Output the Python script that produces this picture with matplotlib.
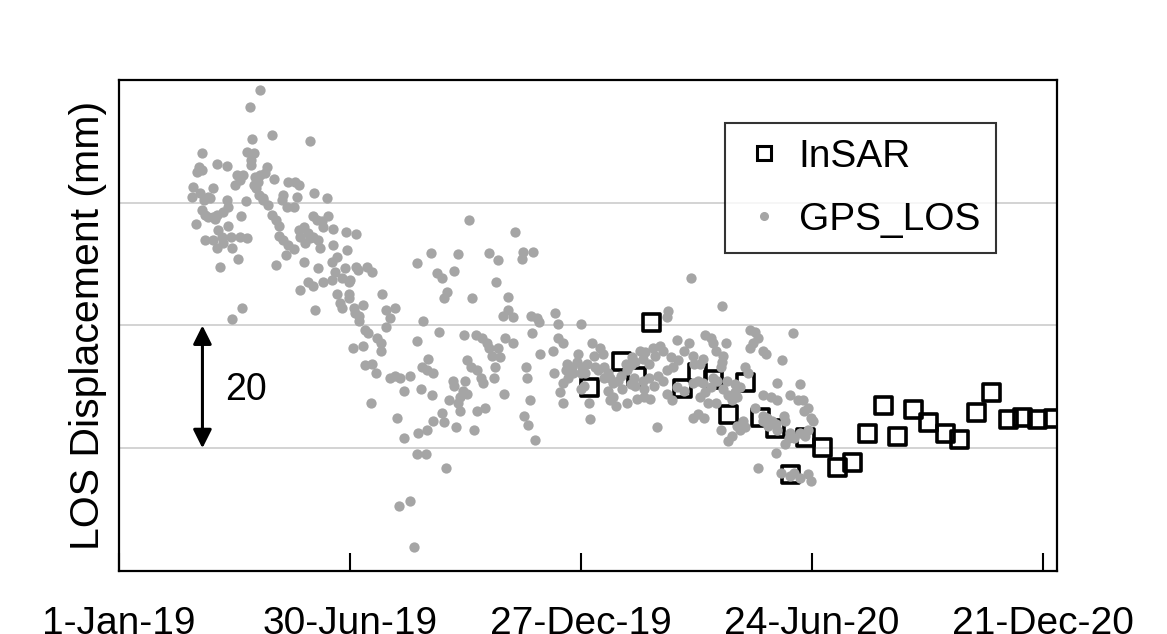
import matplotlib
matplotlib.use('Agg')
import matplotlib.pyplot as plt
from matplotlib.lines import Line2D
import pandas as pd

# GPS LOS series: days since 1-Jan-19, displacement (mm)
gps_day = [
    110, 102, 119, 149, 104, 65, 100, 105, 103, 103,
    62, 65, 61, 76, 84, 115, 92, 97, 90, 94,
    106, 110, 105, 108, 114, 121, 107, 109, 112, 132,
    137, 140, 128, 127, 131, 136, 139, 152, 162, 58,
    57, 63, 66, 69, 73, 71, 112, 116, 99, 84,
    85, 81, 76, 65, 67, 69, 73, 75, 119, 122,
    125, 95, 151, 154, 158, 163, 159, 167, 60, 85,
    77, 80, 73, 67, 76, 81, 87, 94, 100, 88,
    93, 79, 125, 128, 132, 136, 140, 144, 147, 141,
    149, 145, 151, 155, 157, 122, 130, 144, 155, 166,
    170, 167, 177, 185, 147, 151, 159, 166, 168, 174,
    179, 141, 170, 179, 179, 172, 174, 183, 190, 153,
    96, 88, 185, 193, 197, 205, 208, 215, 211, 208,
    187, 187,
    178, 176, 180, 186, 184, 192, 194, 201, 204, 204,
    182, 190, 192, 197, 200, 196, 211, 215, 218, 227, 230,
    232, 239, 255, 232, 243, 264, 288, 295, 315, 323,
    314, 309, 273, 248, 252, 261, 294, 256, 253, 275,
    303, 299, 303, 307, 321, 326, 327, 340, 342, 237,
    249, 232, 269, 278, 283, 287, 288, 291, 295, 297,
    293, 292, 284, 301, 307, 322, 328, 338, 342, 346,
    317, 318, 339, 349, 353, 357, 358, 350, 346, 354,
    346, 241, 236, 240, 245, 219, 227, 222, 235, 244,
    271, 274, 279, 282, 270, 268, 260, 261, 271, 266,
    257, 264, 266, 252, 245, 253, 263, 279, 285, 277,
    300, 320, 316, 319, 324, 233, 240, 222, 217, 360,
    367, 366,
    428, 427, 446, 470, 369, 375, 377, 370, 348, 361,
    360, 363, 365, 371, 373, 378, 381, 383, 378, 385,
    389, 391, 396, 399, 395, 400, 402, 406, 410, 408,
    416, 422, 424, 418, 413, 401, 408, 413, 420, 424,
    417, 409, 402, 399, 392, 427, 432, 436, 435, 440,
    444, 447, 448, 430, 435, 440, 447, 427, 431, 344,
    360, 362, 381, 383, 387, 385, 396, 404, 409, 414,
    419, 447, 451,
    492, 496, 498, 494, 492, 502, 504, 525, 457, 461,
    463, 465, 473, 455, 453, 471, 470, 469, 488, 490,
    517, 451, 455, 463, 466, 474, 480, 484, 480, 482,
    478, 475, 471, 461, 457, 453, 459, 465, 513, 531,
    502, 508, 513, 523, 529, 533, 537, 534, 539, 541,
    537, 535, 531, 526, 522, 519, 523, 518, 519, 496,
    502, 505, 509, 512, 502, 506, 513, 486, 482, 488,
    484, 478, 475, 469, 456, 512, 498, 516, 523, 526,
    537, 539, 531,
]
gps_mm = [
    78.4, 75.6, 71.0, 70.1, 70.4, 68.1, 68.3, 68.1, 67.0, 66.1,
    65.8, 65.3, 65.0, 66.3, 66.0, 65.8, 64.5, 64.5, 62.9, 63.7,
    64.2, 64.5, 62.9, 63.4, 64.8, 63.9, 62.4, 61.2, 60.7, 63.4,
    63.4, 62.9, 61.2, 60.4, 59.3, 59.3, 60.9, 61.6, 60.7, 62.5,
    61.0, 61.6, 60.4, 60.9, 62.4, 60.7, 60.4, 59.6, 60.3, 60.4,
    59.3, 58.5, 58.0, 58.8, 58.0, 57.6, 57.6, 57.3, 58.0, 57.2,
    56.2, 57.8, 57.8, 57.2, 57.0, 57.8, 56.0, 55.7, 56.5, 56.2,
    55.5, 54.4, 53.9, 53.9, 52.7, 53.4, 54.4, 54.4, 54.2, 52.6,
    50.9, 49.5, 54.5, 53.9, 53.1, 52.4, 55.5, 56.0, 55.0, 54.4,
    54.2, 53.4, 54.4, 53.9, 52.7, 49.8, 51.4, 50.3, 49.3, 50.3,
    51.1, 53.1, 55.2, 54.9, 47.0, 46.5, 47.0, 47.4, 48.7, 47.7,
    47.0, 45.7, 45.2, 45.2, 44.4, 43.6, 42.8, 42.9, 43.3, 42.5,
    42.8, 41.0, 49.5, 49.5, 48.7, 45.2, 42.5, 42.9, 41.2, 39.7,
    41.6, 40.8,
    52.3, 49.3, 47.4, 49.0, 42.0, 39.2, 38.7, 37.9, 37.1, 35.9,
    36.4, 36.7, 33.5, 33.8, 32.2, 27.4, 31.5, 31.8, 10.6, 11.4, 3.9,
    19.1, 19.1, 16.8, 50.1, 51.8, 51.6, 51.8, 50.6, 51.9, 51.9,
    50.8, 55.2, 57.2, 48.5, 47.7, 48.8, 47.0, 45.4, 44.4, 44.4,
    44.6, 41.5, 42.5, 41.3, 41.6, 41.2, 40.5, 42.1, 40.2, 40.8,
    39.0, 37.4, 38.4, 38.4, 37.9, 37.1, 36.3, 35.1, 36.3, 34.8,
    33.2, 31.5, 30.7, 38.0, 37.1, 38.7, 35.4, 35.8, 38.0, 37.1,
    33.2, 31.5, 32.2, 33.8, 33.2, 34.0, 35.4, 31.5, 30.7, 32.2,
    27.3, 34.6, 33.2, 32.7, 32.2, 31.5, 31.8, 29.4, 29.7, 28.7,
    34.3, 33.2, 32.7, 31.5, 31.0, 29.4, 31.0, 30.2, 28.9, 28.3,
    27.9, 27.3, 26.1, 25.8, 24.5, 24.2, 23.5, 26.1, 26.6, 23.0,
    28.9, 27.8, 25.3, 23.8, 21.4, 22.5, 22.9, 21.6, 25.0, 40.2,
    24.8, 27.4,
    42.3, 41.3, 47.8, 43.1, 37.1, 36.3, 35.4, 35.1, 32.7, 33.2,
    32.3, 32.3, 33.8, 33.2, 32.7, 33.2, 32.3, 31.5, 31.4, 30.7,
    31.0, 31.8, 32.7, 33.5, 33.8, 34.8, 34.0, 35.9, 35.6, 34.6,
    36.3, 36.7, 35.9, 35.1, 33.8, 31.5, 31.0, 31.4, 31.8, 31.0,
    30.2, 29.7, 30.2, 30.5, 29.7, 32.7, 33.2, 34.3, 37.6, 35.9,
    37.1, 35.1, 33.8, 34.8, 29.9, 29.4, 30.7, 28.9, 27.8, 29.1,
    29.7, 30.2, 29.4, 27.8, 26.9, 28.3, 27.3, 28.1, 28.3, 28.1,
    23.5, 25.0, 25.6,
    39.2, 38.9, 37.9, 37.1, 36.3, 35.9, 35.4, 38.7, 38.4, 37.9,
    37.1, 35.9, 37.2, 34.6, 33.8, 35.1, 34.0, 33.2, 33.2, 32.3,
    34.3, 31.0, 30.7, 31.4, 31.0, 31.0, 30.5, 29.9, 29.1, 28.3,
    27.8, 28.6, 29.7, 29.9, 29.1, 28.3, 27.4, 27.3, 30.7, 30.5,
    28.6, 28.3, 27.8, 28.6, 27.8, 27.8, 26.6, 26.1, 25.0, 24.5,
    22.9, 22.0, 22.4, 21.7, 21.6, 20.7, 22.5, 25.3, 24.5, 26.5,
    25.3, 25.0, 24.5, 24.0, 24.5, 23.7, 22.9, 24.5, 23.7, 23.4,
    22.9, 22.0, 21.2, 22.9, 25.0, 19.3, 16.8, 16.0, 15.5, 16.0,
    15.8, 14.7, 15.2,
]

# InSAR series
insar_day = [367, 392, 403, 415, 439, 451, 463, 475, 488, 500, 512, 523, 535, 548, 560,
             572, 583, 596, 607, 619, 631, 644, 655, 668, 680, 693, 704, 716, 728]
insar_mm = [29.9, 34.1, 31.7, 40.5, 29.7, 32.3, 31.2, 25.5, 30.7, 25.0, 23.2, 15.7, 21.7, 20.1, 16.8,
            17.6, 22.4, 26.9, 21.9, 26.3, 24.2, 22.4, 21.4, 25.8, 29.1, 24.7, 25.0, 24.7, 24.8]

tick_dates = ['2019-01-01', '2019-06-30', '2019-12-27', '2020-06-24', '2020-12-21']
tick_labels = ['1-Jan-19', '30-Jun-19', '27-Dec-19', '24-Jun-20', '21-Dec-20']

start = pd.Timestamp('2019-01-01')
gps_x = start + pd.to_timedelta(gps_day, unit='D')
insar_x = start + pd.to_timedelta(insar_day, unit='D')

plt.rcParams['font.family'] = ['Liberation Sans', 'DejaVu Sans']

fig = plt.figure(figsize=(11.67, 6.34), dpi=100)
ax = fig.add_axes([0.102, 0.0994, 0.8037, 0.7745])

gray = '#a5a5a5'
ax.scatter(insar_x, insar_mm, marker='s', s=150, facecolors='none',
           edgecolors='black', linewidths=2.6, zorder=3)
ax.scatter(gps_x, gps_mm, marker='o', s=55, color=gray, linewidths=0, zorder=4)

ax.set_xlim(pd.Timestamp('2019-01-01'), pd.Timestamp('2021-01-01'))
ax.set_ylim(0, 80)

ax.set_xticks(pd.to_datetime(tick_dates))
ax.set_xticklabels(tick_labels)
ax.tick_params(axis='x', direction='in', length=13, width=1.5, pad=25,
               labelsize=28, colors='black')
ax.set_yticks([20, 40, 60])
ax.set_yticklabels([])
ax.tick_params(axis='y', length=0)
ax.grid(axis='y', color='#cccccc', linewidth=1.2)
ax.set_axisbelow(True)

for sp in ax.spines.values():
    sp.set_linewidth(1.6)
    sp.set_color('black')

ax.set_ylabel('LOS Displacement (mm)', fontsize=29.5, labelpad=5)

# 20 mm scale bar
ax.annotate('', xy=(start + pd.Timedelta(days=65), 40), xytext=(start + pd.Timedelta(days=65), 20),
            arrowprops=dict(arrowstyle='<|-|>', color='black', lw=2.2, mutation_scale=28,
                            shrinkA=0, shrinkB=0), zorder=5)
ax.text(start + pd.Timedelta(days=83), 29.5, '20', fontsize=27, va='center', ha='left')

handles = [
    Line2D([], [], marker='s', ls='none', ms=10, mfc='none', mec='black', mew=2.2),
    Line2D([], [], marker='o', ls='none', ms=5.5, mfc=gray, mec=gray),
]
leg = ax.legend(handles, ['InSAR', 'GPS_LOS'], loc='upper left', bbox_to_anchor=(0.646, 0.912),
                fontsize=28, frameon=True, fancybox=False, edgecolor='black',
                handlelength=1.2, handletextpad=0.3, borderpad=0.4, labelspacing=0.7,
                borderaxespad=0)
leg.get_frame().set_linewidth(1.5)

fig.savefig('out.png', dpi=100)
